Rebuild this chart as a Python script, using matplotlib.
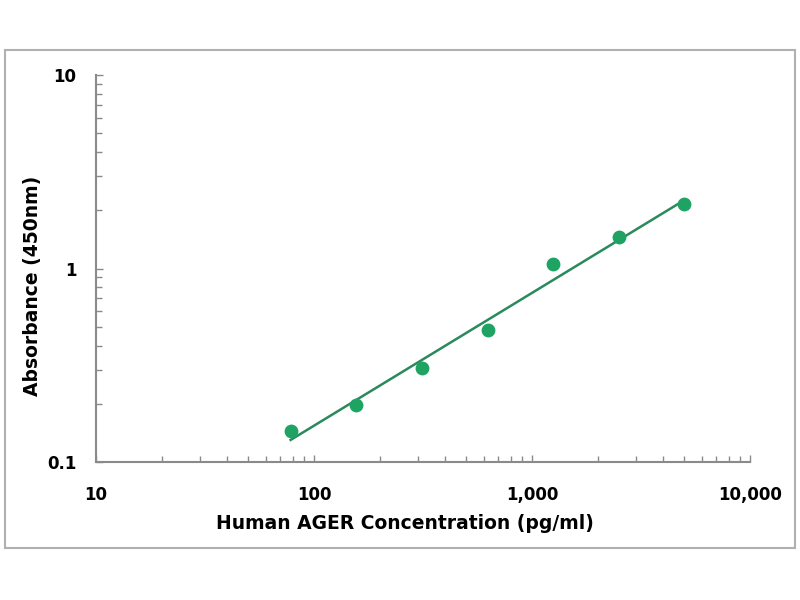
import numpy as np
import matplotlib.pyplot as plt
from matplotlib.patches import Rectangle
from matplotlib.ticker import LogLocator

conc = [78.125, 156.25, 312.5, 625, 1250, 2500, 5000]
absorb = [0.145, 0.197, 0.305, 0.48, 1.05, 1.45, 2.15]
x_ticks = [10, 100, 1000, 10000]
x_labels = ['10', '100', '1,000', '10,000']
y_ticks = [0.1, 1, 10]
y_labels = ['0.1', '1', '10']

plt.rcParams['font.family'] = ['DejaVu Sans']

fig = plt.figure(figsize=(8, 6), dpi=100)
fig.add_artist(Rectangle((0.006, 0.087), 0.988, 0.83, transform=fig.transFigure,
                         fill=False, edgecolor='#b0b0b0', linewidth=1.5))
ax = fig.add_axes([0.12, 0.23, 0.8175, 0.645])

# log-log fit line
k, b = np.polyfit(np.log10(conc), np.log10(absorb), 1)
xf = np.array([conc[0], conc[-1]])
ax.plot(xf, 10 ** (k * np.log10(xf) + b), color='#2a8a5c', lw=1.8, zorder=2)
ax.scatter(conc, absorb, s=80, color='#1ea363', zorder=3)

ax.set_xscale('log')
ax.set_yscale('log')
ax.set_xlim(10, 10000)
ax.set_ylim(0.1, 10)
ax.set_xticks(x_ticks)
ax.set_xticklabels(x_labels)
ax.set_yticks(y_ticks)
ax.set_yticklabels(y_labels)
ax.xaxis.set_minor_locator(LogLocator(base=10, subs=np.arange(2, 10)))
ax.yaxis.set_minor_locator(LogLocator(base=10, subs=np.arange(2, 10)))

for s in ['top', 'right']:
    ax.spines[s].set_visible(False)
for s in ['left', 'bottom']:
    ax.spines[s].set_color('#8a8a8a')
    ax.spines[s].set_linewidth(1.5)

ax.tick_params(which='both', direction='in', color='#8a8a8a', width=1)
ax.tick_params(which='major', length=5)
ax.tick_params(which='minor', length=4)
ax.tick_params(axis='x', which='major', pad=17, labelsize=12)
ax.tick_params(axis='y', which='major', pad=14, labelsize=12)
for lab in ax.get_xticklabels() + ax.get_yticklabels():
    lab.set_fontweight('bold')

ax.set_xlabel('Human AGER Concentration (pg/ml)', fontsize=13.5, fontweight='bold')
ax.set_ylabel('Absorbance (450nm)', fontsize=13.5, fontweight='bold')
ax.xaxis.set_label_coords(0.4725, -0.135)
ax.yaxis.set_label_coords(-0.083, 0.455)

plt.savefig('out.png', dpi=100)
